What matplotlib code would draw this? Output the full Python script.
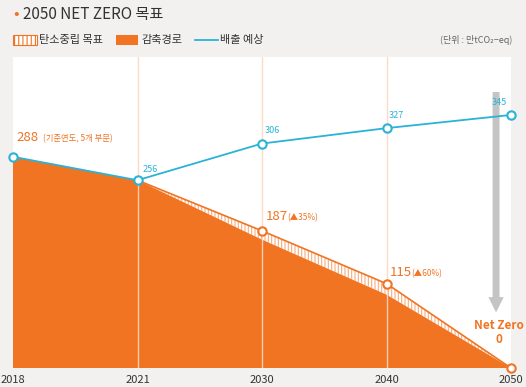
import matplotlib
matplotlib.use("Agg")
import matplotlib.pyplot as plt
from matplotlib.patches import Rectangle
from matplotlib.lines import Line2D
import numpy as np

plt.rcParams['font.family'] = ['Noto Sans CJK KR', 'DejaVu Sans']
plt.rcParams['hatch.linewidth'] = 0.8

years = ['2018', '2021', '2030', '2040', '2050']
target = [288, 256, 187, 115, 0]          # 탄소중립 목표
path = [288, 256, 175, 100, 0]            # 감축경로
bau_years = [1, 2, 3, 4]
bau = [256, 306, 327, 345]                # 배출 예상 (from 2021)
bau_line = [288, 256, 306, 327, 345]

ORANGE = '#f07422'
BLUE = '#2ab3d6'
BG = '#f2f1f0'
GRID = '#fbd6c2'

fig = plt.figure(figsize=(5.26, 3.87), dpi=100, facecolor=BG)
ax = fig.add_axes([13/526, 19/387, 498/526, 311/387])
ax.set_facecolor('white')
x = np.arange(len(years))
ax.set_xlim(0, 4)
ax.set_ylim(0, 424)
for s in ax.spines.values():
    s.set_visible(False)
ax.set_yticks([])
ax.set_xticks([])

# hatched target band
ax.fill_between(x, path, target, facecolor='white', edgecolor='#f6ad7d', hatch='|||||', linewidth=0, zorder=1)
ax.fill_between(x, 0, path, facecolor=ORANGE, linewidth=0, zorder=2)
ax.plot(x[1:], target[1:], color=ORANGE, lw=1.2, zorder=3)

for xi in [1, 2, 3]:
    ax.axvline(xi, color=GRID, lw=1, zorder=2.5, alpha=0.9)

ax.plot(x, bau_line, color=BLUE, lw=1.3, zorder=4)
ax.plot(x[:2], bau_line[:2], 'o', ms=6, mfc='white', mec=BLUE, mew=1.5, zorder=5, clip_on=False)
ax.plot(bau_years[1:], bau[1:], 'o', ms=6, mfc='white', mec=BLUE, mew=1.5, zorder=5, clip_on=False)
ax.plot(x[2:], target[2:], 'o', ms=6, mfc='white', mec=ORANGE, mew=1.5, zorder=5, clip_on=False)

# gray arrow
ax.annotate('', xy=(3.88, 72), xytext=(3.88, 380),
            arrowprops=dict(arrowstyle='simple,head_width=1.1,head_length=1.1,tail_width=0.5',
                            color='#c4c4c4', lw=0), zorder=3)

# annotations
ax.text(0.03, 305, '288', color=ORANGE, fontsize=9.5, va='bottom', ha='left')
ax.text(0.24, 306, '(기준연도, 5개 부문)', color=ORANGE, fontsize=6, va='bottom', ha='left')
ax.text(1.04, 264, '256', color=BLUE, fontsize=6.5, va='bottom', ha='left')
for xi, v in zip(bau_years[1:], bau[1:]):
    ax.text(xi + 0.02 if xi < 4 else xi - 0.03, v + 11, str(v), color=BLUE, fontsize=6.5,
            va='bottom', ha='left' if xi < 4 else 'right')
ax.text(2.03, 198, '187', color=ORANGE, fontsize=9.5, va='bottom', ha='left')
ax.text(2.2, 199, '(▲35%)', color=ORANGE, fontsize=6, va='bottom', ha='left')
ax.text(3.03, 121, '115', color=ORANGE, fontsize=9.5, va='bottom', ha='left')
ax.text(3.2, 122, '(▲60%)', color=ORANGE, fontsize=6, va='bottom', ha='left')
ax.text(3.9, 30, 'Net Zero\n0', color=ORANGE, fontsize=8.5, fontweight='bold', va='bottom', ha='center',
        linespacing=1.05)

for xi, lab in zip(x, years):
    ax.text(xi, -9, lab, color='#333333', fontsize=8, ha='center', va='top', clip_on=False)

# title
fig.text(13/526, 1 - 14/387, '•', color=ORANGE, fontsize=12, va='center', ha='left')
fig.text(23/526, 1 - 14/387, '2050 NET ZERO 목표', color='#333333', fontsize=11, va='center', ha='left')

# legend
ly = 1 - 40/387
hb = Rectangle((13/526, ly - 5/387), 24/526, 10/387, transform=fig.transFigure,
               facecolor='white', edgecolor=ORANGE, hatch='||||', lw=0.8)
fig.patches.append(hb)
fig.text(39/526, ly, '탄소중립 목표', color='#333333', fontsize=8, va='center', ha='left')
ob = Rectangle((116/526, ly - 5/387), 22/526, 10/387, transform=fig.transFigure,
               facecolor=ORANGE, edgecolor='none')
fig.patches.append(ob)
fig.text(141/526, ly, '감축경로', color='#333333', fontsize=8, va='center', ha='left')
fig.add_artist(Line2D([195/526, 218/526], [ly, ly], color=BLUE, lw=1.3, transform=fig.transFigure))
fig.text(220/526, ly, '배출 예상', color='#333333', fontsize=8, va='center', ha='left')
fig.text(512/526, ly, '(단위 : 만tCO₂−eq)', color='#666666', fontsize=6.5, va='center', ha='right')

fig.savefig('out.png', dpi=100, facecolor=BG)
